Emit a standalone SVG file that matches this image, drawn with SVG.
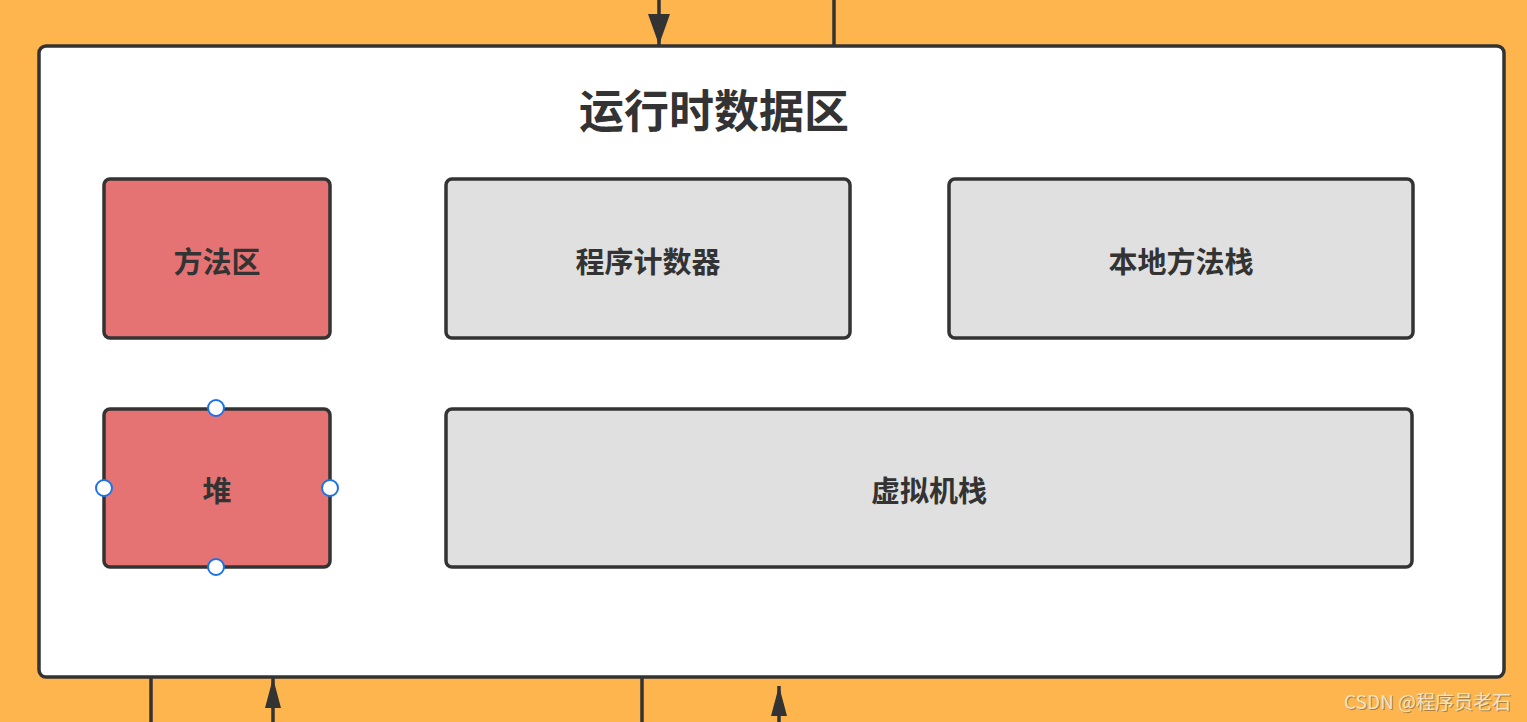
<svg xmlns="http://www.w3.org/2000/svg" width="1527" height="722" viewBox="0 0 1527 722">
<style>
.box{stroke:#333;stroke-width:3.5}
.red{fill:#E57373}
.gray{fill:#E0E0E0}
.lbl{font-family:"Noto Sans CJK SC","Liberation Sans",sans-serif;font-weight:bold;font-size:29px;fill:#333;text-anchor:middle;dominant-baseline:central}
.conn{stroke:#333;stroke-width:3.5;fill:none}
.h{fill:#fff;stroke:#1a73e8;stroke-width:2}
</style>
<defs>
<marker id="ahw" markerUnits="userSpaceOnUse" markerWidth="31" markerHeight="22" refX="31" refY="11" orient="auto" viewBox="0 0 31 22">
<path d="M0,0 L31,11 L0,22 Z" fill="#333"/>
</marker>
<marker id="ahn" markerUnits="userSpaceOnUse" markerWidth="30" markerHeight="16" refX="30" refY="8" orient="auto" viewBox="0 0 30 16">
<path d="M0,0 L30,8 L0,16 Z" fill="#333"/>
</marker>
</defs>
<rect width="1527" height="722" fill="#FFB54D"/>
<g id="connectors">
<line class="conn" x1="659" y1="0" x2="659" y2="45" marker-end="url(#ahw)"/>
<line class="conn" x1="834" y1="0" x2="834" y2="46"/>
<line class="conn" x1="151" y1="673" x2="151" y2="722"/>
<line class="conn" x1="273" y1="722" x2="273" y2="678" marker-end="url(#ahn)"/>
<line class="conn" x1="642" y1="677" x2="642" y2="722"/>
<line class="conn" x1="779" y1="722" x2="779" y2="686" marker-end="url(#ahn)"/>
</g>
<g id="runtime-data-area">
<rect x="39" y="46" width="1465" height="631" rx="7" fill="#fff" stroke="#333" stroke-width="3.5"/>
<text x="714" y="108" font-family="Noto Sans CJK SC,Liberation Sans,sans-serif" font-weight="bold" font-size="45" fill="#333" text-anchor="middle" dominant-baseline="central">运行时数据区</text>
</g>
<g id="method-area">
<rect class="box red" x="104" y="179" width="226" height="159" rx="6"/>
<text class="lbl" x="217" y="260">方法区</text>
</g>
<g id="pc-register">
<rect class="box gray" x="446" y="179" width="404" height="159" rx="6"/>
<text class="lbl" x="648" y="260">程序计数器</text>
</g>
<g id="native-method-stack">
<rect class="box gray" x="949" y="179" width="464" height="159" rx="6"/>
<text class="lbl" x="1181" y="260">本地方法栈</text>
</g>
<g id="heap">
<rect class="box red" x="104" y="409" width="226" height="158" rx="6"/>
<text class="lbl" x="217" y="489">堆</text>
<circle class="h" cx="216" cy="408" r="8"/>
<circle class="h" cx="104" cy="488" r="8"/>
<circle class="h" cx="330" cy="488" r="8"/>
<circle class="h" cx="216" cy="567" r="8"/>
</g>
<g id="vm-stack">
<rect class="box gray" x="446" y="409" width="966" height="158" rx="6"/>
<text class="lbl" x="929" y="489">虚拟机栈</text>
</g>
<g id="watermark">
<text x="1511" y="709" font-family="Noto Sans CJK SC,Liberation Sans,sans-serif" font-size="19" fill="#5a4a30" fill-opacity="0.5" text-anchor="end" transform="translate(1,1)">CSDN @程序员老石</text>
<text x="1511" y="709" font-family="Noto Sans CJK SC,Liberation Sans,sans-serif" font-size="19" fill="#efe3c8" text-anchor="end">CSDN @程序员老石</text>
</g>
</svg>
